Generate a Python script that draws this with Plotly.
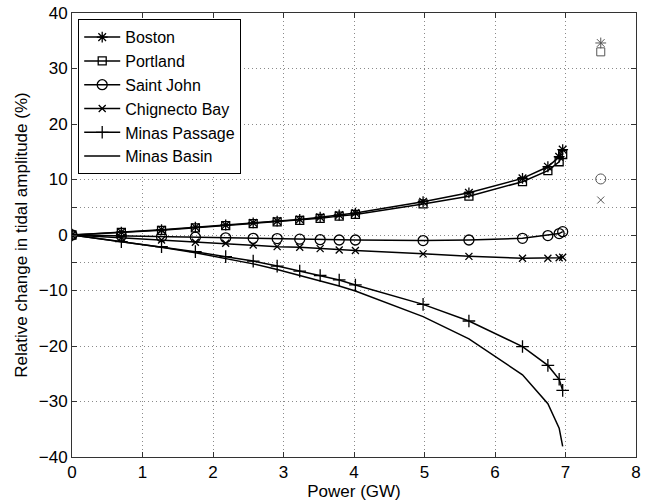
import plotly.graph_objects as go

power = [0, 0.70, 1.27, 1.75, 2.18, 2.57, 2.91, 3.23, 3.52, 3.79, 4.02, 4.98, 5.63, 6.39, 6.75, 6.91, 6.96]

boston = [0, 0.5, 0.95, 1.4, 1.8, 2.2, 2.5, 2.8, 3.2, 3.6, 3.95, 6.0, 7.6, 10.2, 12.3, 14.1, 15.4]
portland = [0, 0.45, 0.85, 1.3, 1.7, 2.05, 2.35, 2.65, 3.0, 3.4, 3.7, 5.6, 7.0, 9.6, 11.6, 13.2, 14.5]
saint_john = [0, -0.15, -0.3, -0.4, -0.5, -0.6, -0.65, -0.75, -0.85, -0.9, -0.9, -1.0, -0.9, -0.6, -0.1, 0.25, 0.6]
chignecto = [0, -0.5, -0.9, -1.3, -1.5, -1.8, -2.1, -2.2, -2.45, -2.7, -2.8, -3.4, -3.85, -4.2, -4.2, -4.1, -4.0]
minas_passage = [0, -1.2, -2.1, -3.0, -3.9, -4.7, -5.6, -6.5, -7.3, -8.1, -9.0, -12.5, -15.5, -20.1, -23.5, -26.0, -28.0]
minas_basin = [0, -1.2, -2.2, -3.2, -4.2, -5.2, -6.2, -7.3, -8.2, -9.2, -10.1, -14.7, -18.7, -25.2, -30.4, -34.8, -38.1]

# isolated reference points at x = 7.5
ref_x = 7.5
ref_boston = 34.6
ref_portland = 33.0
ref_saint_john = 10.1
ref_chignecto = 6.3

series = [
    ("Boston", boston, "asterisk-open", 9, ref_boston),
    ("Portland", portland, "square-open", 8, ref_portland),
    ("Saint John", saint_john, "circle-open", 10, ref_saint_john),
    ("Chignecto Bay", chignecto, "x-thin-open", 7, ref_chignecto),
    ("Minas Passage", minas_passage, "cross-thin-open", 9, None),
    ("Minas Basin", minas_basin, None, 0, None),
]

y_ticks = [-40, -30, -20, -10, -5, 0, 5, 10, 20, 30, 40]
y_labels = ["\u221240", "\u221230", "\u221220", "\u221210", "", "0", "", "10", "20", "30", "40"]
x_ticks = [0, 1, 2, 3, 4, 5, 6, 7, 8]

fig = go.Figure()
for name, ys, sym, sz, ref in series:
    if sym:
        fig.add_trace(go.Scatter(
            x=power, y=ys, name=name, mode="lines+markers",
            line=dict(color="black", width=1.5),
            marker=dict(symbol=sym, size=sz, color="black", line=dict(color="black", width=1.3)),
        ))
    else:
        fig.add_trace(go.Scatter(
            x=power, y=ys, name=name, mode="lines",
            line=dict(color="black", width=1.5),
        ))
for name, ys, sym, sz, ref in series:
    if ref is not None:
        fig.add_trace(go.Scatter(
            x=[ref_x], y=[ref], mode="markers", showlegend=False,
            marker=dict(symbol=sym, size=sz, color="#555555", line=dict(color="#555555", width=1)),
        ))

axis_common = dict(
    showline=True, linecolor="#333333", linewidth=1, mirror="ticks",
    ticks="inside", ticklen=5, tickcolor="#333333",
    showgrid=True, gridcolor="#8a8a8a", griddash="1px,3px", gridwidth=1,
    zeroline=False, automargin=False,
    tickfont=dict(size=17, color="black"),
)

fig.update_xaxes(range=[0, 8], tickvals=x_ticks,
                 title=dict(text="Power (GW)", font=dict(size=17, color="black"), standoff=2),
                 **axis_common)
fig.update_yaxes(range=[-40, 40], tickvals=y_ticks, ticktext=y_labels,
                 title=dict(text="Relative change in tidal amplitude (%)", font=dict(size=17, color="black"), standoff=6),
                 **axis_common)

fig.update_layout(
    width=648, height=501,
    margin=dict(l=72, r=12, t=13, b=44),
    paper_bgcolor="white", plot_bgcolor="white",
    font=dict(family="Liberation Sans, Arial, Helvetica, sans-serif", size=17, color="black"),
    legend=dict(x=0.011, y=0.986, xanchor="left", yanchor="top",
                bgcolor="white", bordercolor="black", borderwidth=1,
                font=dict(size=16), tracegroupgap=0, itemwidth=36),
    showlegend=True,
)

# remove the default page margin so the figure sits at the window's top-left corner
fig.write_html("out.html", config={"displayModeBar": False},
               post_script="document.body.style.margin='0';document.body.style.overflow='hidden';")
